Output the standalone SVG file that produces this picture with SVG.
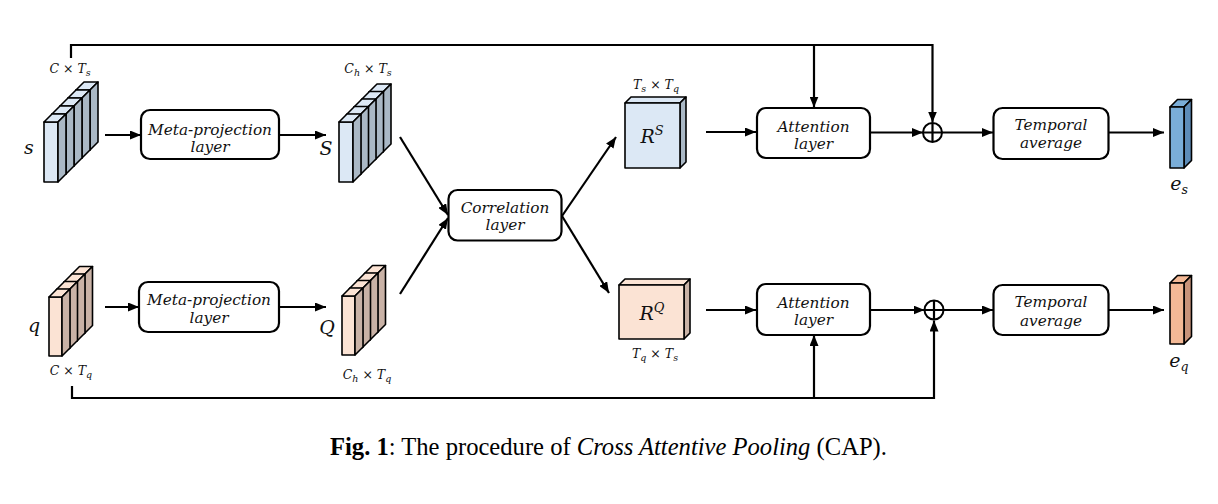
<svg xmlns="http://www.w3.org/2000/svg" xmlns:xlink="http://www.w3.org/1999/xlink" width="1218" height="504" viewBox="0 0 1218 504">
<style>
  .ln { fill: none; stroke: #000; stroke-width: 2.2; }
  .box { fill: #fff; stroke: #000; stroke-width: 2.2; }
  .edge { stroke: #000; stroke-width: 1.6; stroke-linejoin: round; }
  .bt { font-family: "DejaVu Serif", serif; font-style: italic; font-size: 15.3px; text-anchor: middle; fill: #111; }
  .mt { font-family: "DejaVu Serif", serif; font-style: italic; font-size: 12.5px; text-anchor: middle; fill: #111; }
  .var { font-family: "DejaVu Serif", serif; font-style: italic; font-size: 19px; text-anchor: middle; fill: #111; }
  .cap { font-family: "Liberation Serif", serif; font-size: 24.6px; fill: #000; }
  .bF { fill: #dce8f5; } .bS { fill: #aab8c5; }
  .pF { fill: #fbe3d4; } .pS { fill: #c9b2a6; }
</style>
<defs>
  <marker id="ah" markerUnits="userSpaceOnUse" markerWidth="11" markerHeight="9" refX="11" refY="4.5" orient="auto">
    <path d="M0,0 L11,4.5 L0,9 z" fill="#000"/>
  </marker>
  <g id="slabB">
    <rect class="bF edge" x="0" y="0" width="14" height="60"/>
    <polygon class="bF edge" points="0,0 14,0 22,-8 8,-8"/>
    <polygon class="bS edge" points="14,0 22,-8 22,52 14,60"/>
  </g>
  <g id="slabP">
    <rect class="pF edge" x="0" y="0" width="13" height="59"/>
    <polygon class="pF edge" points="0,0 13,0 21,-8 8,-8"/>
    <polygon class="pS edge" points="13,0 21,-8 21,51 13,59"/>
  </g>
</defs>

<g id="connectors">
  <path class="ln" d="M71,58 V45 H932.5 V122.5" marker-end="url(#ah)"/>
  <path class="ln" d="M814,45 V107.5" marker-end="url(#ah)"/>
  <path class="ln" d="M72,386 V398 H934 V320.5" marker-end="url(#ah)"/>
  <path class="ln" d="M814,398 V335" marker-end="url(#ah)"/>
  <path class="ln" d="M105,135 H141" marker-end="url(#ah)"/>
  <path class="ln" d="M279,135 H326" marker-end="url(#ah)"/>
  <path class="ln" d="M105,307 H139" marker-end="url(#ah)"/>
  <path class="ln" d="M279,307 H326" marker-end="url(#ah)"/>
  <path class="ln" d="M400,137 L448,215" marker-end="url(#ah)"/>
  <path class="ln" d="M400,294 L448,218" marker-end="url(#ah)"/>
  <path class="ln" d="M562,216 L616,137" marker-end="url(#ah)"/>
  <path class="ln" d="M562,216 L609,293" marker-end="url(#ah)"/>
  <path class="ln" d="M706,132 H756" marker-end="url(#ah)"/>
  <path class="ln" d="M706,310 H756" marker-end="url(#ah)"/>
  <path class="ln" d="M870,132.5 H923" marker-end="url(#ah)"/>
  <path class="ln" d="M870,310 H924.5" marker-end="url(#ah)"/>
  <path class="ln" d="M942,132.5 H993" marker-end="url(#ah)"/>
  <path class="ln" d="M943.5,310 H993" marker-end="url(#ah)"/>
  <path class="ln" d="M1108,132.5 H1164" marker-end="url(#ah)"/>
  <path class="ln" d="M1108,310 H1164" marker-end="url(#ah)"/>
</g>

<g id="input-s">
  <use xlink:href="#slabB" x="76" y="90"/>
  <use xlink:href="#slabB" x="68" y="98"/>
  <use xlink:href="#slabB" x="60" y="106"/>
  <use xlink:href="#slabB" x="52" y="114"/>
  <use xlink:href="#slabB" x="44" y="122"/>
  <text class="var" x="29" y="154">s</text>
  <text class="mt" x="70" y="73">C × T<tspan font-size="9.5" dy="3">s</tspan></text>
</g>

<g id="input-q">
  <use xlink:href="#slabP" x="71.5" y="274.5"/>
  <use xlink:href="#slabP" x="64" y="282"/>
  <use xlink:href="#slabP" x="56.5" y="289.5"/>
  <use xlink:href="#slabP" x="49" y="297"/>
  <text class="var" x="34" y="332">q</text>
  <text class="mt" x="71" y="375">C × T<tspan font-size="9.5" dy="3">q</tspan></text>
</g>

<g id="meta-s">
  <rect class="box" x="141" y="110" width="138" height="49" rx="9"/>
  <text class="bt" x="210" y="134.5">Meta-projection</text>
  <text class="bt" x="210" y="152">layer</text>
</g>

<g id="meta-q">
  <rect class="box" x="139" y="282" width="140" height="50" rx="9"/>
  <text class="bt" x="209" y="305">Meta-projection</text>
  <text class="bt" x="209" y="323">layer</text>
</g>

<g id="proj-S">
  <use xlink:href="#slabB" x="369" y="92"/>
  <use xlink:href="#slabB" x="361.5" y="99.5"/>
  <use xlink:href="#slabB" x="354" y="107"/>
  <use xlink:href="#slabB" x="346.5" y="114.5"/>
  <use xlink:href="#slabB" x="339" y="122"/>
  <text class="var" x="326" y="155">S</text>
  <text class="mt" x="368" y="73">C<tspan font-size="9.5" dy="3">h</tspan><tspan dy="-3"> × T</tspan><tspan font-size="9.5" dy="3">s</tspan></text>
</g>

<g id="proj-Q">
  <use xlink:href="#slabP" x="364.5" y="273.5"/>
  <use xlink:href="#slabP" x="357" y="281"/>
  <use xlink:href="#slabP" x="349.5" y="288.5"/>
  <use xlink:href="#slabP" x="342" y="296"/>
  <text class="var" x="327" y="334">Q</text>
  <text class="mt" x="367" y="379">C<tspan font-size="9.5" dy="3">h</tspan><tspan dy="-3"> × T</tspan><tspan font-size="9.5" dy="3">q</tspan></text>
</g>

<g id="correlation">
  <rect class="box" x="448.5" y="190" width="113" height="50.5" rx="9"/>
  <text class="bt" x="505" y="213">Correlation</text>
  <text class="bt" x="505" y="230">layer</text>
</g>

<g id="RS">
  <polygon class="bF edge" points="625,103 680,103 686,97 631,97"/>
  <polygon class="bS edge" points="680,103 686,97 686,162 680,168"/>
  <rect class="bF edge" x="625" y="103" width="55" height="65"/>
  <text class="var" x="652" y="143">R<tspan font-size="13" dy="-8">S</tspan></text>
  <text class="mt" x="656" y="89">T<tspan font-size="9.5" dy="3">s</tspan><tspan dy="-3"> × T</tspan><tspan font-size="9.5" dy="3">q</tspan></text>
</g>

<g id="RQ">
  <polygon class="pF edge" points="619,285 684,285 690,279 625,279"/>
  <polygon class="pS edge" points="684,285 690,279 690,333 684,339"/>
  <rect class="pF edge" x="619" y="285" width="65" height="54"/>
  <text class="var" x="652" y="320">R<tspan font-size="13" dy="-8">Q</tspan></text>
  <text class="mt" x="655" y="358">T<tspan font-size="9.5" dy="3">q</tspan><tspan dy="-3"> × T</tspan><tspan font-size="9.5" dy="3">s</tspan></text>
</g>

<g id="attention-s">
  <rect class="box" x="757" y="108" width="113" height="50" rx="9"/>
  <text class="bt" x="813.5" y="131.5">Attention</text>
  <text class="bt" x="813.5" y="149">layer</text>
</g>

<g id="attention-q">
  <rect class="box" x="757" y="284" width="113" height="51" rx="9"/>
  <text class="bt" x="813.5" y="308">Attention</text>
  <text class="bt" x="813.5" y="325">layer</text>
</g>

<g id="plus-s">
  <circle cx="932.5" cy="132.5" r="9.5" fill="#fff" stroke="#000" stroke-width="2"/>
  <path class="ln" d="M923,132.5 H942 M932.5,123 V142"/>
</g>

<g id="plus-q">
  <circle cx="934" cy="310" r="9.5" fill="#fff" stroke="#000" stroke-width="2"/>
  <path class="ln" d="M924.5,310 H943.5 M934,300.5 V319.5"/>
</g>

<g id="temporal-s">
  <rect class="box" x="993.5" y="108" width="115" height="51" rx="9"/>
  <text class="bt" x="1051" y="130">Temporal</text>
  <text class="bt" x="1051" y="148">average</text>
</g>

<g id="temporal-q">
  <rect class="box" x="993.5" y="285" width="115" height="50" rx="9"/>
  <text class="bt" x="1051" y="307">Temporal</text>
  <text class="bt" x="1051" y="326">average</text>
</g>

<g id="es">
  <polygon class="edge" fill="#7aaed9" points="1170,107 1184,107 1191.5,99.5 1177.5,99.5"/>
  <polygon class="edge" fill="#5d8cb8" points="1184,107 1191.5,99.5 1191.5,160.5 1184,168"/>
  <rect class="edge" fill="#7aaed9" x="1170" y="107" width="14" height="61"/>
  <text class="var" x="1179" y="190">e<tspan font-size="12.5" dy="4">s</tspan></text>
</g>

<g id="eq">
  <polygon class="edge" fill="#f4b996" points="1170,283 1184,283 1191.5,275.5 1177.5,275.5"/>
  <polygon class="edge" fill="#c8937a" points="1184,283 1191.5,275.5 1191.5,336.5 1184,344"/>
  <rect class="edge" fill="#f4b996" x="1170" y="283" width="14" height="61"/>
  <text class="var" x="1179" y="367">e<tspan font-size="12.5" dy="4">q</tspan></text>
</g>

<g id="caption">
  <text class="cap" x="330" y="455"><tspan font-weight="bold">Fig. 1</tspan>: The procedure of <tspan font-style="italic">Cross Attentive Pooling</tspan> (CAP).</text>
</g>
</svg>
